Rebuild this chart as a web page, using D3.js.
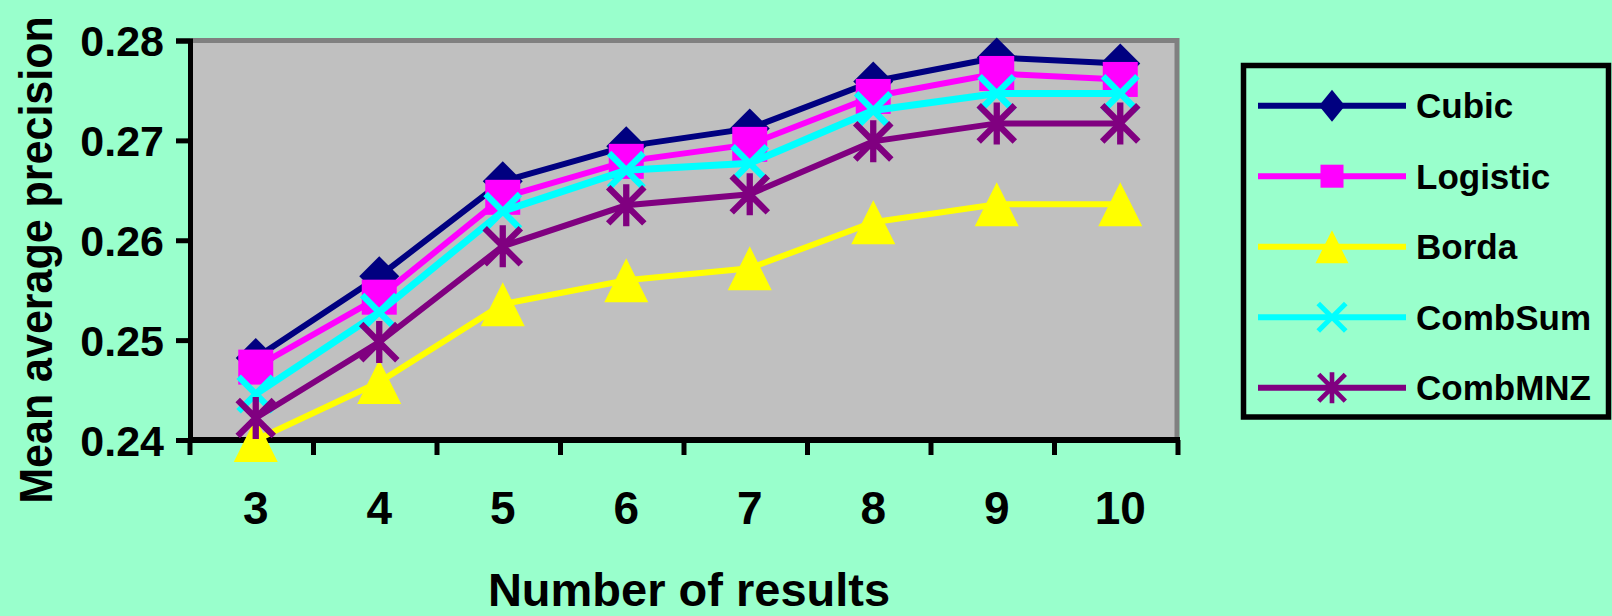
<!DOCTYPE html>
<html>
<head>
<meta charset="utf-8">
<script src="https://cdn.jsdelivr.net/npm/d3@7/dist/d3.min.js"></script>
<style>
  html, body { margin: 0; padding: 0; background: #99FFCC; }
  svg { display: block; }
  text { font-family: "Liberation Sans", Arial, sans-serif; font-weight: bold; fill: #000; }
</style>
</head>
<body>
<svg id="chart" width="1612" height="616"></svg>
<script>
const categories = [3, 4, 5, 6, 7, 8, 9, 10];
const yTicks = [0.24, 0.25, 0.26, 0.27, 0.28];
const seriesNames = ["Cubic", "Logistic", "Borda", "CombSum", "CombMNZ"];
const cubic    = [0.2482, 0.2564, 0.2659, 0.2694, 0.2712, 0.2759, 0.2783, 0.2777];
const logistic = [0.2473, 0.2543, 0.2643, 0.2679, 0.2696, 0.2744, 0.2767, 0.2761];
const borda    = [0.2400, 0.2458, 0.2536, 0.2560, 0.2572, 0.2618, 0.2636, 0.2636];
const combSum  = [0.2446, 0.2528, 0.2629, 0.2670, 0.2677, 0.2730, 0.2747, 0.2747];
const combMNZ  = [0.2422, 0.2498, 0.2594, 0.2635, 0.2646, 0.2699, 0.2717, 0.2717];

const seriesValues = [cubic, logistic, borda, combSum, combMNZ];
const colors = ["#000080", "#FF00FF", "#FFFF00", "#00FFFF", "#800080"];
const shapes = ["diamond", "square", "triangle", "x", "star"];
const plotSizes = [40, 35, 44, 40, 42];
const legendSizes = [28, 23, 33, 32, 31];

const svg = d3.select("#chart");
const L = 190, R = 1177, T = 40.5, B = 440;

const x = d3.scaleBand().domain(categories).range([L, 1178]);
const y = d3.scaleLinear().domain([0.24, 0.28]).range([B, T]);
const px = c => x(c) + x.bandwidth() / 2 + 4;

// plot area
svg.append("rect").attr("x", L).attr("y", T).attr("width", R - L).attr("height", B - T)
  .attr("fill", "#C0C0C0");
svg.append("path").attr("d", `M${L},${T}H${R}V${B}`).attr("fill", "none")
  .attr("stroke", "#808080").attr("stroke-width", 5);

// axes
const yAxis = d3.axisLeft(y).tickValues(yTicks).tickSize(14).tickFormat(d3.format(".2f"));
const gy = svg.append("g").attr("transform", `translate(${L},0)`).call(yAxis);
gy.select(".domain").attr("stroke", "#000").attr("stroke-width", 5);
gy.selectAll(".tick line").attr("stroke", "#000").attr("stroke-width", 5);
gy.selectAll(".tick text").attr("font-size", 43).attr("x", -26).attr("dy", "0.36em")
  .style("font-family", '"Liberation Sans", Arial, sans-serif').style("font-weight", "bold");

const gx = svg.append("g").attr("transform", `translate(0,${B})`);
gx.append("line").attr("x1", L - 2).attr("x2", 1180).attr("y1", 0).attr("y2", 0)
  .attr("stroke", "#000").attr("stroke-width", 6);
const edges = categories.map(c => x(c)).concat([x(categories[categories.length - 1]) + x.bandwidth()]);
gx.selectAll("line.tk").data(edges).enter().append("line").attr("class", "tk")
  .attr("x1", d => d).attr("x2", d => d).attr("y1", 0).attr("y2", 15)
  .attr("stroke", "#000").attr("stroke-width", 5);
gx.selectAll("text").data(categories).enter().append("text")
  .attr("x", d => px(d)).attr("y", 84).attr("text-anchor", "middle")
  .attr("font-size", 46).text(d => d);

// titles
svg.append("text").attr("x", 689).attr("y", 606).attr("text-anchor", "middle")
  .attr("font-size", 47).text("Number of results");
svg.append("text").attr("transform", "translate(52,260) rotate(-90) scale(1,1.07)")
  .attr("text-anchor", "middle").attr("font-size", 43)
  .text("Mean average precision");

// marker drawing
function drawMarker(g, shape, s, color) {
  const h = s / 2;
  if (shape === "diamond") {
    g.append("path").attr("d", `M0,${-h}L${h},0L0,${h}L${-h},0Z`).attr("fill", color);
  } else if (shape === "square") {
    g.append("rect").attr("x", -h).attr("y", -h).attr("width", s).attr("height", s).attr("fill", color);
  } else if (shape === "triangle") {
    g.append("path").attr("d", `M0,${-h}L${h},${h}L${-h},${h}Z`).attr("fill", color);
  } else if (shape === "x") {
    const a = h * 0.86;
    g.append("path").attr("d", `M${-a},${-a}L${a},${a}M${a},${-a}L${-a},${a}`)
      .attr("stroke", color).attr("stroke-width", s * 0.16).attr("fill", "none");
  } else if (shape === "star") {
    const a = h * 0.86;
    g.append("path").attr("d", `M${-a},${-a}L${a},${a}M${a},${-a}L${-a},${a}M0,${-h}L0,${h}`)
      .attr("stroke", color).attr("stroke-width", s * 0.15).attr("fill", "none");
  }
}

const line = d3.line().x((d, i) => px(categories[i])).y(d => y(d));
seriesValues.forEach((vals, si) => {
  svg.append("path").datum(vals).attr("d", line).attr("fill", "none")
    .attr("stroke", colors[si]).attr("stroke-width", si === 3 ? 7 : 6)
    .attr("stroke-linejoin", "miter");
  vals.forEach((v, i) => {
    const g = svg.append("g").attr("transform", `translate(${px(categories[i])},${y(v)})`);
    drawMarker(g, shapes[si], plotSizes[si], colors[si]);
  });
});

// legend
svg.append("rect").attr("x", 1243.5).attr("y", 65.5).attr("width", 365).attr("height", 351.5)
  .attr("fill", "#99FFCC").attr("stroke", "#000").attr("stroke-width", 5.5);
const legendY = d3.scalePoint().domain(seriesNames).range([105.7, 387.7]);
seriesNames.forEach((name, si) => {
  const ly = legendY(name);
  svg.append("line").attr("x1", 1258).attr("x2", 1406).attr("y1", ly).attr("y2", ly)
    .attr("stroke", colors[si]).attr("stroke-width", 6);
  const g = svg.append("g").attr("transform", `translate(1332,${ly})`);
  if (shapes[si] === "diamond") {
    g.append("path").attr("d", "M0,-16L13,0L0,16L-13,0Z").attr("fill", colors[si]);
  } else {
    drawMarker(g, shapes[si], legendSizes[si], colors[si]);
  }
  svg.append("text").attr("x", 1416).attr("y", ly + 12.5).attr("font-size", 35).text(name);
});
</script>
</body>
</html>
